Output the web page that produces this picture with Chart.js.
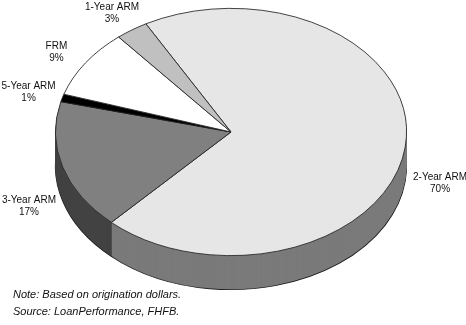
<!DOCTYPE html>
<html>
<head>
<meta charset="utf-8">
<script src="https://cdn.jsdelivr.net/npm/chart.js@4/dist/chart.umd.min.js"></script>
<style>
  html, body { margin: 0; padding: 0; background: #fff; }
  #wrap { position: relative; width: 466px; height: 325px; }
</style>
</head>
<body>
<div id="wrap"><canvas id="pie" width="466" height="325"></canvas></div>
<script>
// slices in drawing order (clockwise, starting at the 2-Year / 1-Year boundary)
const loanTypes = ['2-Year ARM', '3-Year ARM', '5-Year ARM', 'FRM', '1-Year ARM'];
const shares = [70, 17, 1, 9, 3];
const topColors = ['#e6e6e6', '#808080', '#000000', '#ffffff', '#c0c0c0'];
const sideColors = ['#7a7a7a', '#424242', '#000000', '#cccccc', '#8a8a8a'];
const notes = ['Note: Based on origination dollars.', 'Source: LoanPerformance, FHFB.'];

const DEPTH = 34;

function stretch(chart) {
  const a = chart.chartArea;
  return a.width / a.height;
}

function withTransform(chart, ctx) {
  const a = chart.chartArea;
  const cx = (a.left + a.right) / 2;
  const cy = (a.top + a.bottom) / 2;
  ctx.translate(cx, cy);
  ctx.scale(stretch(chart), 1);
  ctx.translate(-cx, -cy);
}

function drawArcWith(arc, ctx, overrides) {
  const saved = arc.options;
  arc.options = Object.assign({}, saved, overrides);
  arc.draw(ctx);
  arc.options = saved;
}

const tiltPlugin = {
  id: 'tilt',
  beforeDatasetsDraw(chart) {
    const ctx = chart.ctx;
    const arcs = chart.getDatasetMeta(0).data;
    ctx.save();
    withTransform(chart, ctx);
    // extruded side: stacked copies below the top face
    for (let d = DEPTH; d >= 1; d--) {
      ctx.save();
      ctx.translate(0, d);
      arcs.forEach((arc, i) => {
        if (d === DEPTH) {
          drawArcWith(arc, ctx, { backgroundColor: sideColors[i], borderColor: '#222', borderWidth: 0.8 });
        } else {
          drawArcWith(arc, ctx, { backgroundColor: sideColors[i], borderWidth: 0 });
        }
      });
      ctx.restore();
    }
  },
  afterDatasetsDraw(chart) {
    chart.ctx.restore();
  },
  afterDraw(chart) {
    const ctx = chart.ctx;
    const a = chart.chartArea;
    const cx = (a.left + a.right) / 2;
    const cy = (a.top + a.bottom) / 2;
    const sx = stretch(chart);
    const arcs = chart.getDatasetMeta(0).data;
    ctx.save();
    ctx.fillStyle = '#111';
    ctx.font = '10px "Liberation Sans", Arial, sans-serif';
    ctx.textAlign = 'center';
    ctx.textBaseline = 'middle';
    arcs.forEach((arc, i) => {
      const mid = (arc.startAngle + arc.endAngle) / 2;
      const x = cx + arc.outerRadius * 1.2 * sx * Math.cos(mid);
      let y = cy + arc.outerRadius * 1.16 * Math.sin(mid);
      if (Math.sin(mid) > 0) y += DEPTH;
      ctx.fillText(loanTypes[i], x, y - 6);
      ctx.fillText(shares[i] + '%', x, y + 6);
    });
    ctx.textAlign = 'left';
    ctx.font = 'italic 11px "Liberation Sans", Arial, sans-serif';
    ctx.fillText(notes[0], 13, 295);
    ctx.fillText(notes[1], 13, 312);
    ctx.restore();
  }
};

new Chart(document.getElementById('pie'), {
  type: 'pie',
  data: {
    labels: loanTypes,
    datasets: [{
      data: shares,
      backgroundColor: topColors,
      borderColor: '#222',
      borderWidth: 0.7
    }]
  },
  options: {
    responsive: false,
    animation: false,
    events: [],
    rotation: -29,
    layout: { padding: { top: 8, bottom: 69, left: 55, right: 59 } },
    plugins: {
      legend: { display: false },
      tooltip: { enabled: false }
    }
  },
  plugins: [tiltPlugin]
});
</script>
</body>
</html>
